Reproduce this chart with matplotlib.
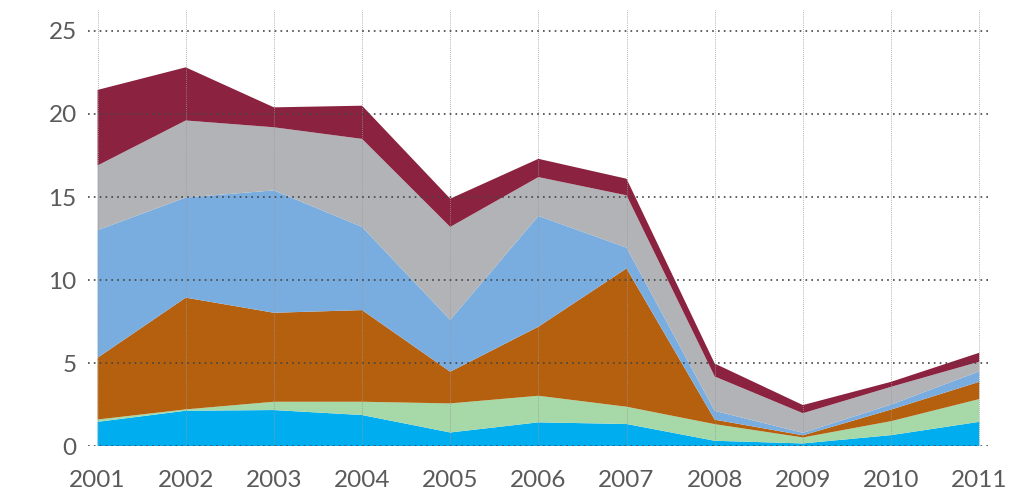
import matplotlib.pyplot as plt

years = [2001, 2002, 2003, 2004, 2005, 2006, 2007, 2008, 2009, 2010, 2011]

# stacked from bottom to top
cyan = [1.46, 2.13, 2.17, 1.87, 0.82, 1.43, 1.33, 0.32, 0.16, 0.66, 1.46]
green = [0.14, 0.08, 0.50, 0.80, 1.75, 1.60, 1.04, 1.00, 0.36, 0.84, 1.37]
orange = [3.72, 6.73, 5.36, 5.52, 1.91, 4.16, 8.33, 0.27, 0.13, 0.70, 1.04]
light_blue = [7.68, 6.03, 7.37, 5.01, 3.12, 6.67, 1.25, 0.53, 0.15, 0.30, 0.63]
gray = [3.90, 4.64, 3.80, 5.30, 5.60, 2.34, 3.15, 2.07, 1.18, 1.07, 0.58]
maroon = [4.55, 3.20, 1.20, 2.00, 1.70, 1.10, 1.00, 0.78, 0.49, 0.30, 0.54]

colors = ["#00AEEF", "#A6D8A8", "#B5600F", "#7AADDF", "#B1B3B6", "#8B2240"]

plt.rcParams['font.family'] = ['Lato', 'DejaVu Sans']

fig = plt.figure(figsize=(10.1, 4.94), dpi=100)
ax = fig.add_axes([0.087, 0.097, 0.893, 0.883])

ax.stackplot(years, cyan, green, orange, light_blue, gray, maroon,
             colors=colors, linewidth=0)

ax.set_xlim(2000.89, 2011.12)
ax.set_ylim(0, 26.27)

ax.set_xticks(years)
ax.set_yticks([0, 5, 10, 15, 20, 25])

ax.grid(axis="y", linestyle=(0, (1, 2.5)), color="#444444", linewidth=1.2, zorder=5)
ax.grid(axis="x", linestyle=(0, (1, 1.5)), color="#999999", linewidth=0.6, zorder=5)
ax.set_axisbelow(False)

for s in ax.spines.values():
    s.set_visible(False)

ax.tick_params(axis="both", length=0, labelsize=17.5, labelcolor="#5a5a5a")
ax.tick_params(axis="x", pad=17)
ax.tick_params(axis="y", pad=8)

plt.savefig("out.png", dpi=100)
